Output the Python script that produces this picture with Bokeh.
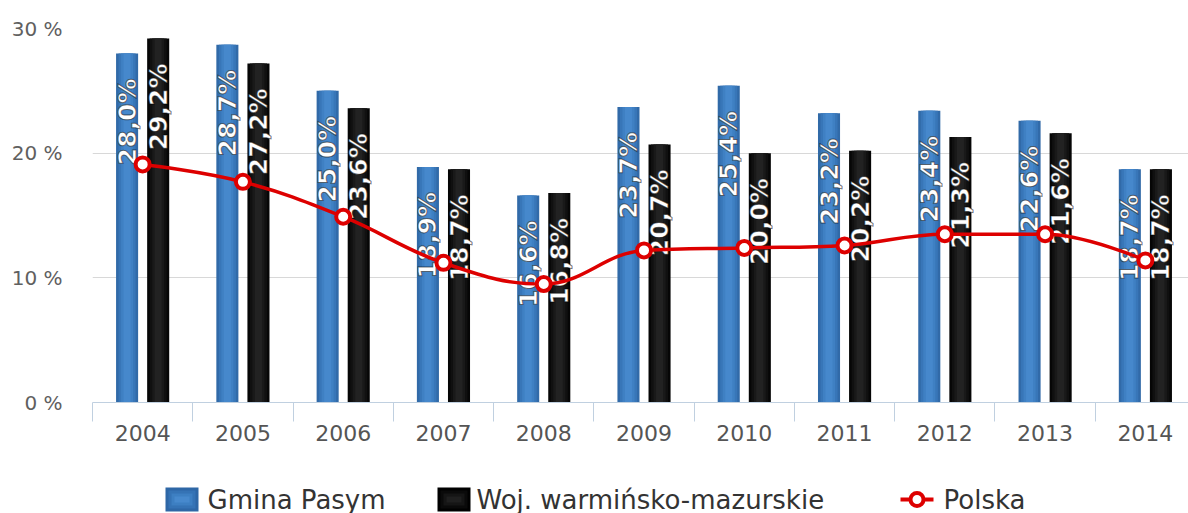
import math
from bokeh.plotting import figure
from bokeh.layouts import column
from bokeh.models import FixedTicker, ColumnDataSource, Range1d
from bokeh.core.properties import value
from bokeh.embed import file_html
from bokeh.resources import INLINE

# ---------------- data ----------------
years = ["2004", "2005", "2006", "2007", "2008", "2009", "2010", "2011", "2012", "2013", "2014"]
gmina = [28.0, 28.7, 25.0, 18.9, 16.6, 23.7, 25.4, 23.2, 23.4, 22.6, 18.7]
woj = [29.2, 27.2, 23.6, 18.7, 16.8, 20.7, 20.0, 20.2, 21.3, 21.6, 18.7]
polska = [19.1, 17.7, 14.9, 11.2, 9.5, 12.2, 12.4, 12.6, 13.5, 13.5, 11.4]
y_ticks = [0, 10, 20, 30]
y_tick_labels = ["0 %", "10 %", "20 %", "30 %"]
series_names = ["Gmina Pasym", "Woj. warmińsko-mazurskie", "Polska"]

FONT = "DejaVu Sans"
RED = "#dd0000"
xs = list(range(len(years)))


def fmt(v):
    return ("%.1f" % v).replace(".", ",") + "%"


p = figure(width=1188, height=455, output_backend="svg", toolbar_location=None,
           x_range=Range1d(-0.5, 10.43), y_range=Range1d(0, 30),
           min_border_left=92, min_border_right=0, min_border_top=28,
           min_border_bottom=53)
p.outline_line_color = None
p.background_fill_color = "white"
p.border_fill_color = "white"

# axes
p.xaxis.ticker = FixedTicker(ticks=xs, minor_ticks=[i - 0.5 for i in range(len(years) + 1)])
p.xaxis.major_label_overrides = {i: y for i, y in enumerate(years)}
p.xaxis.major_tick_out = 0
p.xaxis.major_tick_in = 0
p.xaxis.minor_tick_out = 19
p.xaxis.minor_tick_in = 0
p.xaxis.minor_tick_line_color = "#c0d0e0"
p.xaxis.axis_line_color = "#c0d0e0"
p.xaxis.major_label_standoff = 3
p.xaxis.major_label_text_font = FONT
p.xaxis.major_label_text_font_size = "22px"
p.xaxis.major_label_text_color = "#555555"

p.yaxis.ticker = FixedTicker(ticks=y_ticks)
p.yaxis.major_label_overrides = {t: l for t, l in zip(y_ticks, y_tick_labels)}
p.yaxis.axis_line_color = None
p.yaxis.major_tick_line_color = None
p.yaxis.minor_tick_line_color = None
p.yaxis.major_tick_out = 0
p.yaxis.major_label_standoff = 30
p.yaxis.major_label_text_font = FONT
p.yaxis.major_label_text_font_size = "20px"
p.yaxis.major_label_text_color = "#606060"

p.xgrid.grid_line_color = None
p.ygrid.ticker = FixedTicker(ticks=y_ticks)
p.ygrid.grid_line_color = "#d8d8d8"

# bars (layered strips to imitate the gradient)
off = 0.155
blue_layers = [(0.22, "#316aa8"), (0.17, "#3876b8"), (0.12, "#3f80c3"), (0.07, "#4688cc")]
black_layers = [(0.22, "#060606"), (0.17, "#101010"), (0.12, "#191919"), (0.07, "#222222")]

src_b = ColumnDataSource(dict(x=[x - off for x in xs], top=gmina, lab=[fmt(v) for v in gmina]))
src_k = ColumnDataSource(dict(x=[x + off for x in xs], top=woj, lab=[fmt(v) for v in woj]))

for w, c in blue_layers:
    p.vbar(x="x", top="top", bottom=0, width=w, source=src_b, fill_color=c, line_color=None)
for w, c in black_layers:
    p.vbar(x="x", top="top", bottom=0, width=w, source=src_k, fill_color=c, line_color=None)

# data labels
for src in (src_b, src_k):
    kw = dict(x="x", y="top", text="lab", source=src, angle=math.pi / 2,
              text_align="right", text_baseline="middle", y_offset=25,
              text_font=value(FONT), text_font_style="bold",
              text_font_size="25px", text_color="white")
    try:
        p.text(text_outline_color="rgba(0,0,0,0.55)", **kw)
    except Exception:
        p.text(**kw)


# Polska spline (Highcharts-style bezier control points)
def spline_segments(px_, py_, smoothing=1.5):
    n = len(px_)
    denom = smoothing + 1
    left = [(px_[i], py_[i]) for i in range(n)]
    right = [(px_[i], py_[i]) for i in range(n)]
    for i in range(1, n - 1):
        x, y = px_[i], py_[i]
        lx, ly = px_[i - 1], py_[i - 1]
        nx, ny = px_[i + 1], py_[i + 1]
        lcx = (smoothing * x + lx) / denom
        lcy = (smoothing * y + ly) / denom
        rcx = (smoothing * x + nx) / denom
        rcy = (smoothing * y + ny) / denom
        corr = ((rcy - lcy) * (rcx - x)) / (rcx - lcx) + y - rcy
        lcy += corr
        rcy += corr
        if lcy > max(ly, y):
            lcy = max(ly, y); rcy = 2 * y - lcy
        elif lcy < min(ly, y):
            lcy = min(ly, y); rcy = 2 * y - lcy
        if rcy > max(ny, y):
            rcy = max(ny, y); lcy = 2 * y - rcy
        elif rcy < min(ny, y):
            rcy = min(ny, y); lcy = 2 * y - rcy
        left[i] = (lcx, lcy)
        right[i] = (rcx, rcy)
    d = dict(x0=[], y0=[], x1=[], y1=[], cx0=[], cy0=[], cx1=[], cy1=[])
    for i in range(1, n):
        d["x0"].append(px_[i - 1]); d["y0"].append(py_[i - 1])
        d["x1"].append(px_[i]); d["y1"].append(py_[i])
        d["cx0"].append(right[i - 1][0]); d["cy0"].append(right[i - 1][1])
        d["cx1"].append(left[i][0]); d["cy1"].append(left[i][1])
    return d


seg = spline_segments(xs, polska)
p.bezier(x0="x0", y0="y0", x1="x1", y1="y1", cx0="cx0", cy0="cy0", cx1="cx1", cy1="cy1",
         source=ColumnDataSource(seg), line_color=RED, line_width=3.5)
p.scatter(x=xs, y=polska, size=14, marker="circle", fill_color="white",
          line_color=RED, line_width=4)

# ---------------- legend strip (pixel coordinates of the page) ----------------
# the column layout aligns this strip's frame with the chart's frame (x 92..1188)
lg = figure(width=1188, height=58, output_backend="svg", toolbar_location=None,
            x_range=Range1d(92, 1188), y_range=Range1d(513, 455),
            x_axis_location=None, y_axis_location=None,
            min_border=0, min_border_left=0, min_border_right=0,
            min_border_top=0, min_border_bottom=0)
lg.grid.grid_line_color = None
lg.outline_line_color = None
lg.border_fill_color = "white"
lg.background_fill_color = "white"

LY = 499
sw_w, sw_h = 33, 24
blue_sw = ["#2e67a6", "#3573b5", "#3d7fc2", "#4789cd", "#5395d8"]
black_sw = ["#000000", "#0a0a0a", "#151515", "#1f1f1f", "#2a2a2a"]
for x0, cols in ((165, blue_sw), (437, black_sw)):
    for k, c in enumerate(cols):
        shrink = k * 3
        lg.rect(x=x0 + sw_w / 2, y=LY, width=sw_w - 2 * shrink, height=sw_h - 2 * shrink,
                fill_color=c, line_color=None)
lg.line(x=[900, 933], y=[LY, LY], line_color=RED, line_width=4)
lg.scatter(x=[916.5], y=[LY], size=13, marker="circle", fill_color="white",
           line_color=RED, line_width=4)
lg.text(x=[207, 476, 943], y=[LY, LY, LY], text=series_names,
        text_font=value(FONT), text_font_size="26px", text_color="#333333",
        text_align="left", text_baseline="middle")

layout = column(p, lg, spacing=0)
open("out.html", "w").write(file_html(layout, INLINE))
